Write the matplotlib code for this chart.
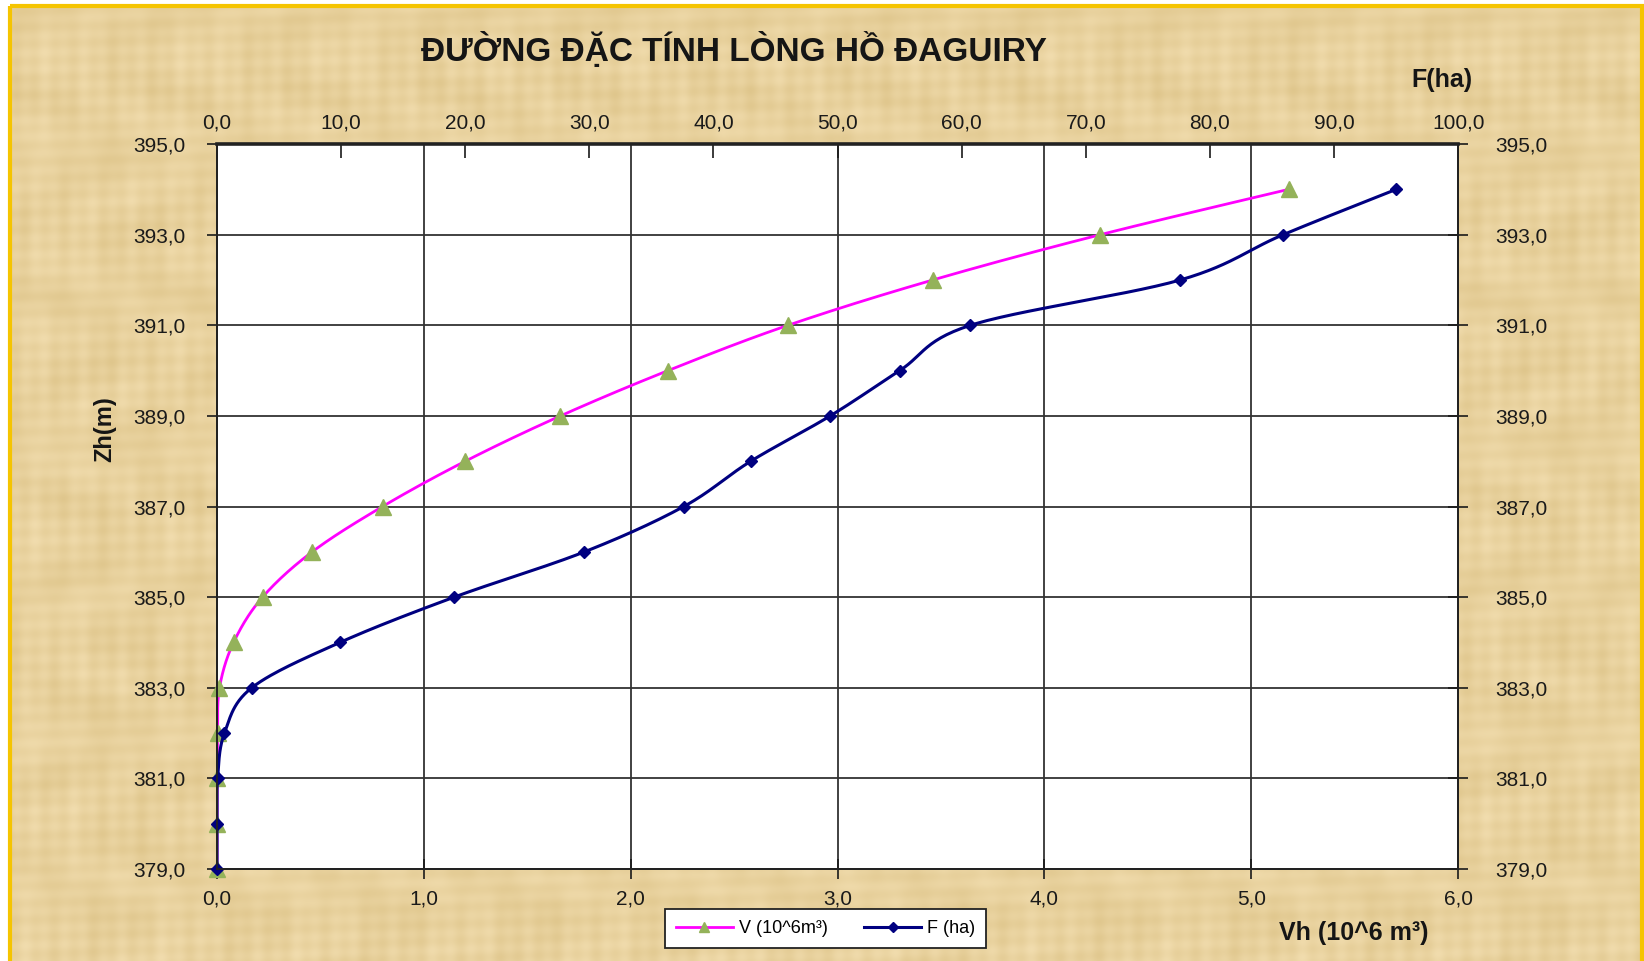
import numpy as np
import matplotlib.pyplot as plt
from matplotlib.patches import Rectangle
from matplotlib.ticker import FuncFormatter, MultipleLocator

plt.rcParams['font.family'] = ['Liberation Sans', 'DejaVu Sans']

# data
z = [379, 380, 381, 382, 383, 384, 385, 386, 387, 388, 389, 390, 391, 392, 393, 394]
v = [0.0, 0.0, 0.001, 0.003, 0.012, 0.08, 0.22, 0.46, 0.80, 1.20, 1.66, 2.18, 2.76, 3.46, 4.27, 5.18]
f = [0.0, 0.0, 0.05, 0.6, 2.8, 9.9, 19.1, 29.6, 37.6, 43.0, 49.4, 55.0, 60.7, 77.6, 85.9, 95.0]
z_ticks = [379, 381, 383, 385, 387, 389, 391, 393, 395]

title = "ĐƯỜNG ĐẶC TÍNH LÒNG HỒ ĐAGUIRY"
v_label = "V (10^6m³)"
f_label = "F (ha)"


def smooth(x, y, xmax, n=30):
    # Excel-like smoothed line (Catmull-Rom in screen proportions)
    sx, sy = 1241.0 / xmax, 725.0 / 16.0
    p = np.column_stack([np.asarray(x) * sx, (np.asarray(y) - 379) * sy])
    p = np.vstack([p[0], p, p[-1]])
    out = []
    for i in range(1, len(p) - 2):
        p0, p1, p2, p3 = p[i - 1], p[i], p[i + 1], p[i + 2]
        c1 = p1 + (p2 - p0) / 6.0
        c2 = p2 - (p3 - p1) / 6.0
        t = np.linspace(0, 1, n)[:, None]
        seg = ((1 - t) ** 3) * p1 + 3 * ((1 - t) ** 2) * t * c1 + 3 * (1 - t) * t ** 2 * c2 + t ** 3 * p2
        out.append(seg)
    out = np.vstack(out)
    return out[:, 0] / sx, out[:, 1] / sy + 379


fig = plt.figure(figsize=(16.44, 9.61), dpi=100)
fig.patch.set_facecolor('white')

# parchment background with gold frame
bg = fig.add_axes([0, 0, 1, 1], zorder=-10)
bg.set_xlim(0, 1644)
bg.set_ylim(961, 0)
bg.axis('off')
xx, yy = np.meshgrid(np.arange(0, 1644, 2), np.arange(0, 961, 2))
tex = (0.5 + 0.12 * np.sin(xx / 3.1) * np.sin(yy / 47.0) + 0.10 * np.sin(yy / 2.7 + xx / 90.0)
       + 0.10 * np.sin(xx / 23.0 + np.sin(yy / 31.0) * 3) + 0.06 * np.sin(yy / 11.0)
       + 0.08 * np.sin(xx / 7.3 + yy / 400.0))
c0 = np.array([0.95, 0.87, 0.69])
c1 = np.array([0.87, 0.77, 0.54])
img = c0 + (c1 - c0) * np.clip(tex, 0, 1)[..., None]
bg.imshow(img, extent=[10, 1642, 961, 6], aspect='auto', interpolation='bilinear')
bg.add_patch(Rectangle((10, 6), 1632, 960, fill=False, edgecolor='#F5C400', linewidth=3))

ax = fig.add_axes([0.132, 0.0957, 0.755, 0.7544])
ax.set_facecolor('white')
ax2 = ax.twiny()
ax3 = ax.twinx()

fmt = FuncFormatter(lambda val, pos: f"{val:.1f}".replace('.', ','))

ax.set_xlim(0, 6)
ax.set_ylim(379, 395)
ax2.set_xlim(0, 100)
ax3.set_ylim(379, 395)

ax.xaxis.set_major_locator(MultipleLocator(1))
ax.set_yticks(z_ticks)
ax2.xaxis.set_major_locator(MultipleLocator(10))
ax3.set_yticks(z_ticks)
for a in (ax.xaxis, ax.yaxis, ax2.xaxis, ax3.yaxis):
    a.set_major_formatter(fmt)

ax.grid(True, color='#333333', linewidth=1.3)
ax.set_axisbelow(True)

ax.tick_params(axis='x', direction='inout', length=14, width=1.2, labelsize=15, pad=8, colors='#1a1a1a')
ax.tick_params(axis='y', direction='out', length=7, width=1.2, labelsize=15, pad=16, colors='#1a1a1a')
ax2.tick_params(axis='x', direction='in', length=10, width=1.2, labelsize=15, pad=8, colors='#1a1a1a')
ax3.tick_params(axis='y', direction='inout', length=14, width=1.2, labelsize=15, pad=20, colors='#1a1a1a')

for a in (ax, ax2, ax3):
    for s in a.spines.values():
        s.set_color('#222222')
        s.set_linewidth(1.3)
ax2.spines['top'].set_linewidth(2.6)

vx, vy = smooth(v, z, 6.0)
fx, fy = smooth(f, z, 100.0)

ax.plot(vx, vy, color='#FF00FF', linewidth=2, zorder=3)
ax.plot(v, z, linestyle='none', marker='^', markersize=11, color='#94B25A', zorder=4, clip_on=False)
ax2.plot(fx, fy, color='#000080', linewidth=2.2, zorder=3)
ax2.plot(f, z, linestyle='none', marker='D', markersize=6.5, color='#000080', zorder=4, clip_on=False)

fig.text(0.4465, 0.948, title, ha='center', va='center', fontsize=24, fontweight='bold', color='#151515')
fig.text(0.877, 0.917, "F(ha)", ha='center', va='center', fontsize=18, fontweight='bold', color='#151515')
fig.text(0.8235, 0.029, "Vh (10^6 m³)", ha='center', va='center', fontsize=18, fontweight='bold', color='#151515')
fig.text(0.064, 0.553, "Zh(m)", ha='center', va='center', rotation=90, fontsize=17, fontweight='bold', color='#151515')

h1 = plt.Line2D([], [], color='#FF00FF', linewidth=2, marker='^', markersize=7,
                markerfacecolor='#94B25A', markeredgecolor='#94B25A')
h2 = plt.Line2D([], [], color='#000080', linewidth=2.2, marker='D', markersize=5)
leg = fig.legend([h1, h2], [v_label, f_label], loc='center', bbox_to_anchor=(0.502, 0.034),
                 ncol=2, fontsize=13, frameon=True, fancybox=False, handlelength=3.2,
                 columnspacing=2.0, borderpad=0.6, handletextpad=0.3, borderaxespad=0)
leg.get_frame().set_edgecolor('#222222')
leg.get_frame().set_linewidth(1.3)
leg.get_frame().set_facecolor('white')
leg.get_frame().set_alpha(1)

fig.savefig('out.png', dpi=100)
